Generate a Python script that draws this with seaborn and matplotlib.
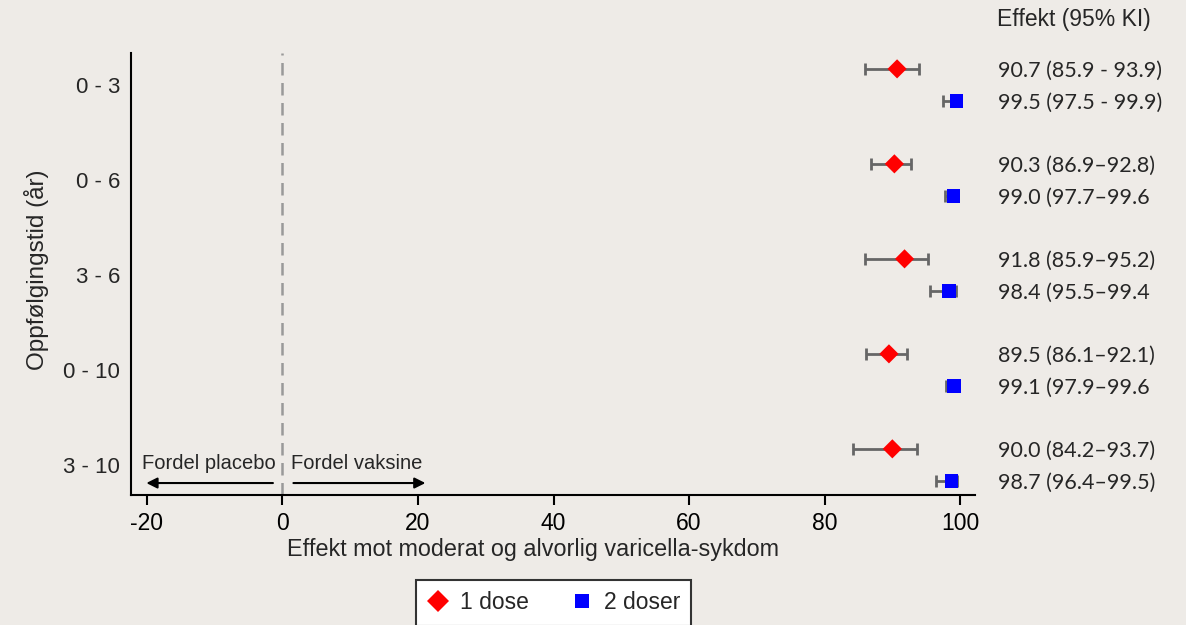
import pandas as pd
import matplotlib.pyplot as plt
import seaborn as sns

# follow-up periods and estimates (1 dose / 2 doser)
groups = ["0 - 3", "0 - 6", "3 - 6", "0 - 10", "3 - 10"]
est_1 = [90.7, 90.3, 91.8, 89.5, 90.0]
lo_1 = [85.9, 86.9, 85.9, 86.1, 84.2]
hi_1 = [93.9, 92.8, 95.2, 92.1, 93.7]
est_2 = [99.5, 99.0, 98.4, 99.1, 98.7]
lo_2 = [97.5, 97.7, 95.5, 97.9, 96.4]
hi_2 = [99.9, 99.6, 99.4, 99.6, 99.5]
txt_1 = ["90.7 (85.9 - 93.9)", "90.3 (86.9\u201392.8)", "91.8 (85.9\u201395.2)",
         "89.5 (86.1\u201392.1)", "90.0 (84.2\u201393.7)"]
txt_2 = ["99.5 (97.5 - 99.9)", "99.0 (97.7\u201399.6", "98.4 (95.5\u201399.4",
         "99.1 (97.9\u201399.6", "98.7 (96.4\u201399.5)"]
doses = ["1 dose", "2 doser"]

rows = []
for i, g in enumerate(groups):
    rows.append(dict(group=g, dose=doses[0], y=i - 0.17, est=est_1[i], lo=lo_1[i], hi=hi_1[i], txt=txt_1[i]))
    rows.append(dict(group=g, dose=doses[1], y=i + 0.17, est=est_2[i], lo=lo_2[i], hi=hi_2[i], txt=txt_2[i]))
df = pd.DataFrame(rows)

bg = "#eeebe7"
sns.set_style("ticks")
plt.rcParams["font.family"] = ["Liberation Sans", "DejaVu Sans"]
plt.rcParams["axes.unicode_minus"] = False

fig = plt.figure(figsize=(11.86, 6.25), dpi=100, facecolor=bg)
ax = fig.add_axes([0.1105, 0.208, 0.7116, 0.7072], facecolor=bg)

# confidence intervals
ax.errorbar(df["est"], df["y"], xerr=[df["est"] - df["lo"], df["hi"] - df["est"]],
            fmt="none", ecolor="#666666", elinewidth=2, capsize=4.5, capthick=2, zorder=2)

sns.scatterplot(data=df, x="est", y="y", hue="dose", style="dose",
                palette={"1 dose": "#ff0000", "2 doser": "#0000ff"},
                markers={"1 dose": "D", "2 doser": "s"}, s=95, linewidth=0,
                ax=ax, zorder=3)

# reference line at 0
ax.axvline(0, color="#999999", linestyle=(0, (5, 3)), linewidth=1.8, zorder=1)

ax.set_xlim(-22.35, 102.2)
ax.set_ylim(4.316, -0.337)
ax.set_xticks([-20, 0, 20, 40, 60, 80, 100])
ax.set_yticks(range(len(groups)))
ax.set_yticklabels(groups)
ax.tick_params(axis="x", labelsize=16.5, length=7, width=1.5, colors="black", pad=5)
ax.tick_params(axis="y", labelsize=16, length=0, pad=8)
for side in ["top", "right"]:
    ax.spines[side].set_visible(False)
for side in ["left", "bottom"]:
    ax.spines[side].set_linewidth(1.5)
    ax.spines[side].set_color("black")

ax.set_xlabel("Effekt mot moderat og alvorlig varicella-sykdom", fontsize=16.8)
ax.xaxis.set_label_coords(0.476, -0.098)
ax.set_ylabel("Oppfølgingstid (år)", fontsize=17.5)
ax.yaxis.set_label_coords(-0.097, 0.51)

# estimate labels on the right
for _, r in df.iterrows():
    ax.text(105.6, r["y"] + 0.02, r["txt"], fontsize=15.5, va="center", ha="left",
            family=["Lato", "DejaVu Sans"], clip_on=False)
ax.text(105.4, -0.69, "Effekt (95% KI)", fontsize=16.5, va="center", ha="left", clip_on=False)

# direction arrows
ax.annotate("", xy=(-20.5, 4.19), xytext=(-1, 4.19),
            arrowprops=dict(arrowstyle="-|>", color="black", lw=1.5, mutation_scale=16))
ax.annotate("", xy=(21.5, 4.19), xytext=(1.2, 4.19),
            arrowprops=dict(arrowstyle="-|>", color="black", lw=1.5, mutation_scale=16))
ax.text(-1, 3.98, "Fordel placebo", fontsize=14.5, ha="right", va="center")
ax.text(1.3, 3.98, "Fordel vaksine", fontsize=14.5, ha="left", va="center")

handles, labels = ax.get_legend_handles_labels()
ax.get_legend().remove()
leg = fig.legend(handles, labels, loc="upper center", bbox_to_anchor=(0.4667, 0.072),
                 ncol=2, fontsize=16.5, frameon=True, fancybox=False, framealpha=1,
                 edgecolor="#333333", borderpad=0.5, borderaxespad=0, columnspacing=1.8,
                 handlelength=1.0, handletextpad=0.45, markerscale=1.1)
leg.get_frame().set_linewidth(1.5)

fig.savefig("out.png", dpi=100, facecolor=bg)
